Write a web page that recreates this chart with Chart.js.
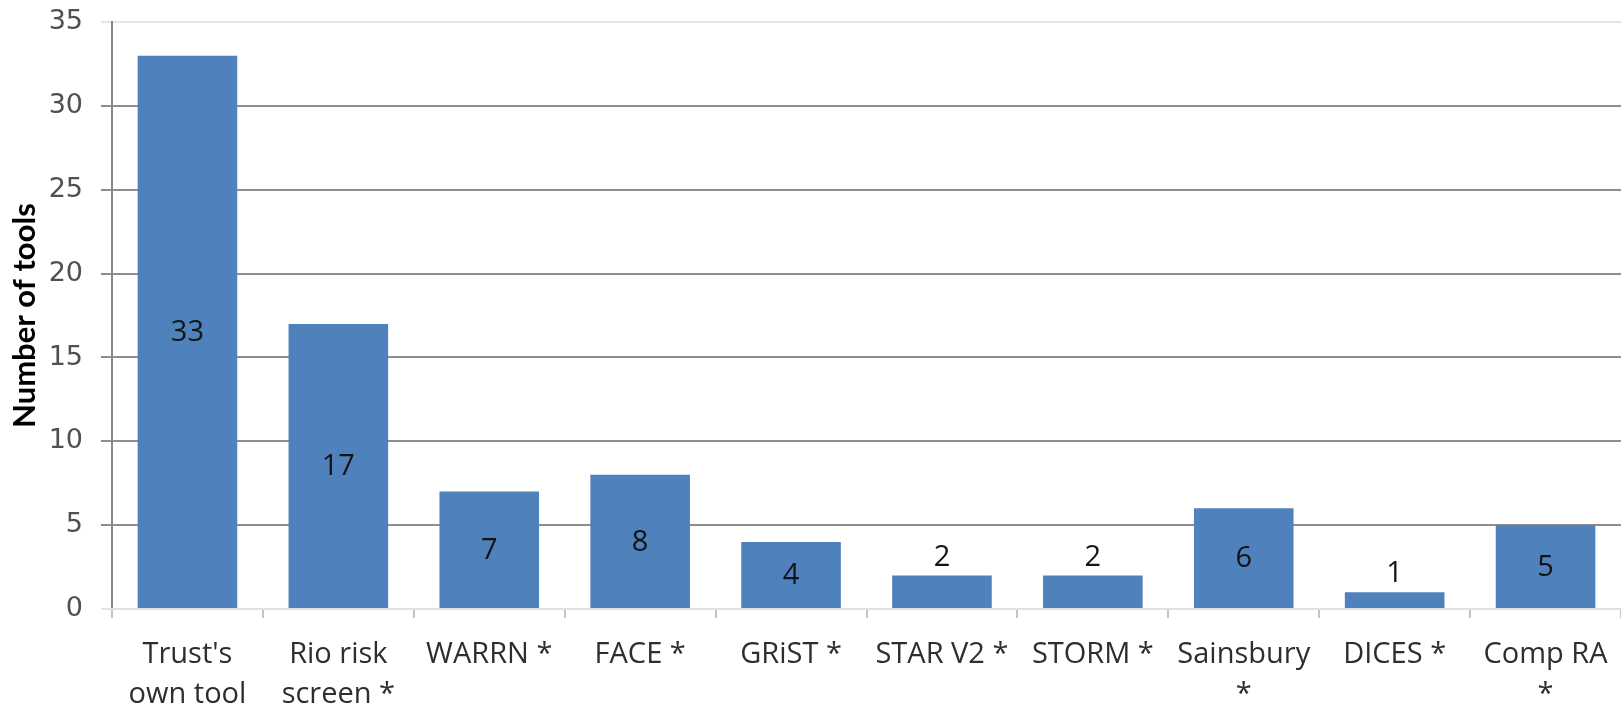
<!DOCTYPE html>
<html>
<head>
<meta charset="utf-8">
<script src="https://cdn.jsdelivr.net/npm/chart.js@4.4.1/dist/chart.umd.min.js"></script>
<style>
  html, body { margin: 0; padding: 0; background: #fff; }
  #frame { position: relative; width: 1621px; height: 704px; overflow: hidden; background: #fff; }
  #wrap { position: absolute; left: 0; top: 0; width: 1621px; height: 780px; }
</style>
</head>
<body>
<div id="frame"><div id="wrap"><canvas id="toolsChart"></canvas></div></div>
<script>
// Risk assessment tools in use
const categories = [
  ["Trust's", 'own tool'],
  ['Rio risk', 'screen *'],
  'WARRN *',
  'FACE *',
  'GRiST *',
  'STAR V2 *',
  'STORM *',
  ['Sainsbury', '*'],
  'DICES *',
  ['Comp RA', '*']
];
const toolCounts = [33, 17, 7, 8, 4, 2, 2, 6, 1, 5];
const yTickValues = [0, 5, 10, 15, 20, 25, 30, 35];

// where the 35 and 0 gridlines sit in the frame
const TOP_PX = 21.7;
const ZERO_PX = 608.5;

const barLabels = {
  id: 'barLabels',
  afterDatasetsDraw(chart) {
    const ctx = chart.ctx;
    const meta = chart.getDatasetMeta(0);
    ctx.save();
    ctx.font = '29px "Open Sans"';
    ctx.fillStyle = '#141414';
    ctx.textAlign = 'center';
    ctx.textBaseline = 'middle';
    meta.data.forEach((bar, i) => {
      const h = bar.base - bar.y;
      // short bars get their number above, the rest centred
      const y = h < 40 ? bar.y - 18 : (bar.y + bar.base) / 2 + 1;
      ctx.fillText(String(toolCounts[i]), bar.x, y);
    });
    ctx.restore();
  }
};

const chart = new Chart(document.getElementById('toolsChart'), {
  type: 'bar',
  data: {
    labels: categories,
    datasets: [{
      data: toolCounts,
      backgroundColor: '#4F81BD',
      borderWidth: 0,
      categoryPercentage: 1,
      barPercentage: 0.66
    }]
  },
  options: {
    responsive: true,
    maintainAspectRatio: false,
    animation: false,
    layout: { padding: { left: 0, right: 0, top: 20, bottom: 0 } },
    plugins: { legend: { display: false }, tooltip: { enabled: false } },
    scales: {
      y: {
        min: 0,
        max: 35,
        afterBuildTicks: (scale) => { scale.ticks = yTickValues.map(v => ({ value: v })); },
        afterFit: (scale) => { scale.width = 112; },
        border: { color: '#888', width: 2 },
        grid: {
          color: (c) => (c.tick && (c.tick.value === 0 || c.tick.value === 35)) ? '#e4e4e4' : '#8e8e8e',
          lineWidth: 2,
          tickLength: 11
        },
        ticks: {
          color: '#505050',
          font: { family: 'DejaVu Sans', size: 27 },
          padding: 18
        },
        title: {
          display: true,
          text: 'Number of tools',
          color: '#000',
          font: { family: 'Lato', size: 31, weight: 'bold' },
          padding: { top: 6, bottom: 0 }
        }
      },
      x: {
        afterFit: (scale) => { scale.paddingLeft = 0; scale.paddingRight = 0; },
        border: { color: '#e0e0e0', width: 2 },
        grid: {
          offset: true,
          drawOnChartArea: false,
          color: '#c4c4c4',
          lineWidth: 2,
          tickLength: 9
        },
        ticks: {
          color: '#2e2e2e',
          maxRotation: 0,
          autoSkip: false,
          font: { family: 'Open Sans', size: 29, lineHeight: 1.38 },
          padding: 17
        }
      }
    }
  },
  plugins: [barLabels]
});

// size the canvas so the plot area lands where it does in the original
const wrap = document.getElementById('wrap');
const ca = chart.chartArea;
const wantH = ZERO_PX - TOP_PX;
wrap.style.height = Math.round(chart.height + wantH - (ca.bottom - ca.top)) + 'px';
chart.resize();
wrap.style.top = (TOP_PX - chart.chartArea.top) + 'px';
</script>
</body>
</html>
